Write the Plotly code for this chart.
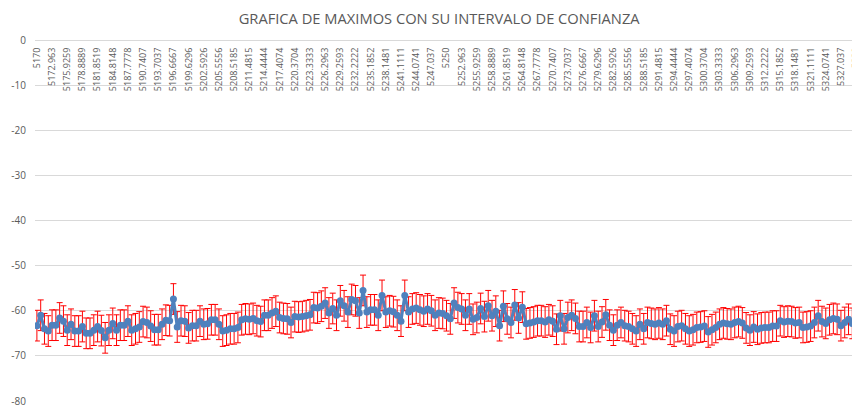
import numpy as np
import plotly.graph_objects as go

# categorias del eje x (5170 a 5330, 217 puntos)
categorias = np.linspace(5170, 5330, 217)
etiquetas = ["{:.4f}".format(v).rstrip("0").rstrip(".") for v in categorias]

# marcas del eje y
y_ticks = [0, -10, -20, -30, -40, -50, -60, -70, -80]
y_textos = ["0", "-10", "-20", "-30", "-40", "-50", "-60", "-70", "-80"]

# maximos
maximos = [
    -63.3, -61.0, -64.0, -64.5, -63.2, -63.2, -61.6, -62.3, -64.3, -63.0,
    -64.5, -64.5, -63.5, -65.0, -65.0, -64.3, -63.5, -64.4, -66.0, -64.3,
    -62.8, -64.3, -63.2, -63.2, -62.3, -64.3, -64.0, -63.6, -62.4, -62.6,
    -63.4, -64.2, -64.2, -63.0, -62.1, -62.2, -57.4, -63.6, -62.2, -62.3,
    -63.8, -63.3, -63.3, -62.3, -63.0, -62.9,
    -62.0, -62.0, -63.0, -64.5, -64.3, -64.0, -64.0, -63.7, -62.0, -61.8,
    -61.9, -61.7, -62.2, -62.4, -61.0, -61.0, -60.5, -60.1, -61.5, -61.7,
    -61.8, -62.6, -61.3, -61.4, -61.3, -61.1, -60.9, -59.3, -59.4, -59.0,
    -58.3, -60.5, -59.5, -61.0, -57.8, -58.9, -60.3, -57.5, -57.8, -60.5,
    -55.5, -60.3, -59.8, -59.8, -61.0, -56.6, -60.3, -60.0, -60.2, -61.0,
    -62.3, -56.6, -60.3, -59.6, -59.4, -59.8, -60.1, -59.6,
    -60.0, -61.0, -60.5, -60.6, -61.1, -61.8, -58.3, -59.3, -59.6, -61.0,
    -59.6, -61.9, -61.5, -59.5, -61.3, -58.9, -61.1, -60.1, -63.3, -59.0,
    -61.8, -62.6, -58.7, -61.6, -59.2, -62.9, -62.7, -62.5, -62.2, -62.2,
    -62.5, -62.0, -62.3, -64.1, -61.1, -64.0, -61.5, -61.0, -61.7, -63.5,
    -63.5, -62.6, -63.7, -61.1, -63.5, -62.5, -60.9, -63.2, -64.3, -63.2,
    -62.6, -63.3, -63.5, -64.0, -64.5,
    -63.0, -64.0, -62.6, -62.8, -63.0, -62.7, -63.0, -62.2, -64.1, -64.5,
    -63.5, -63.3, -64.0, -64.5, -64.2, -63.7, -63.6, -63.4, -64.7, -64.2,
    -63.7, -63.0, -62.7, -62.9, -63.0, -62.6, -62.4, -62.7, -63.8, -64.3,
    -63.6, -64.1, -63.8, -63.7, -63.7, -63.4, -63.4, -62.2, -62.5, -62.3,
    -62.4, -62.7, -62.6, -63.7, -63.6, -63.4, -62.6, -61.1, -62.4, -62.8,
    -62.0, -61.7, -61.9, -63.3, -62.6, -61.9, -62.8, -63.5,
]

# semiamplitud del intervalo de confianza
intervalo = 3.4

x_cat = [str(e) for e in etiquetas]

fig = go.Figure()
fig.add_trace(go.Scatter(
    x=x_cat, y=maximos, mode='lines+markers',
    line=dict(color='#4F81BD', width=3),
    marker=dict(color='#4F81BD', size=7),
    error_y=dict(type='constant', value=intervalo, color='#FF0000', thickness=1, width=3),
    showlegend=False
))

# la pagina deja 8 px de margen, por eso la figura es algo menor que la ventana
fig.update_layout(
    width=852, height=401,
    margin=dict(l=27, r=2, t=32, b=8),
    paper_bgcolor='white', plot_bgcolor='white',
    font=dict(family='Open Sans, sans-serif', color='#595959'),
    title=dict(text='GRAFICA DE MAXIMOS CON SU INTERVALO DE CONFIANZA',
               x=0.506, xanchor='center', y=0.973, yanchor='middle',
               font=dict(size=14.7, color='#595959')),
    xaxis=dict(type='category', anchor='free', position=1, side='bottom',
               tickangle=-90, tickmode='array',
               tickvals=x_cat[::4], ticktext=etiquetas[::4],
               tickfont=dict(size=9, color='#595959'),
               showgrid=False, showline=True, linecolor='#D9D9D9', linewidth=1,
               ticks='', ticklabelstandoff=3, automargin=False,
               range=[-0.5, len(x_cat) - 0.5]),
    yaxis=dict(range=[-80, 0], tickmode='array', tickvals=y_ticks, ticktext=y_textos,
               tickfont=dict(size=10, color='#595959'),
               showgrid=True, gridcolor='#D9D9D9', gridwidth=1, automargin=False,
               zeroline=False, showline=False, ticks='', ticklabelstandoff=8),
)

fig.write_html("out.html")
